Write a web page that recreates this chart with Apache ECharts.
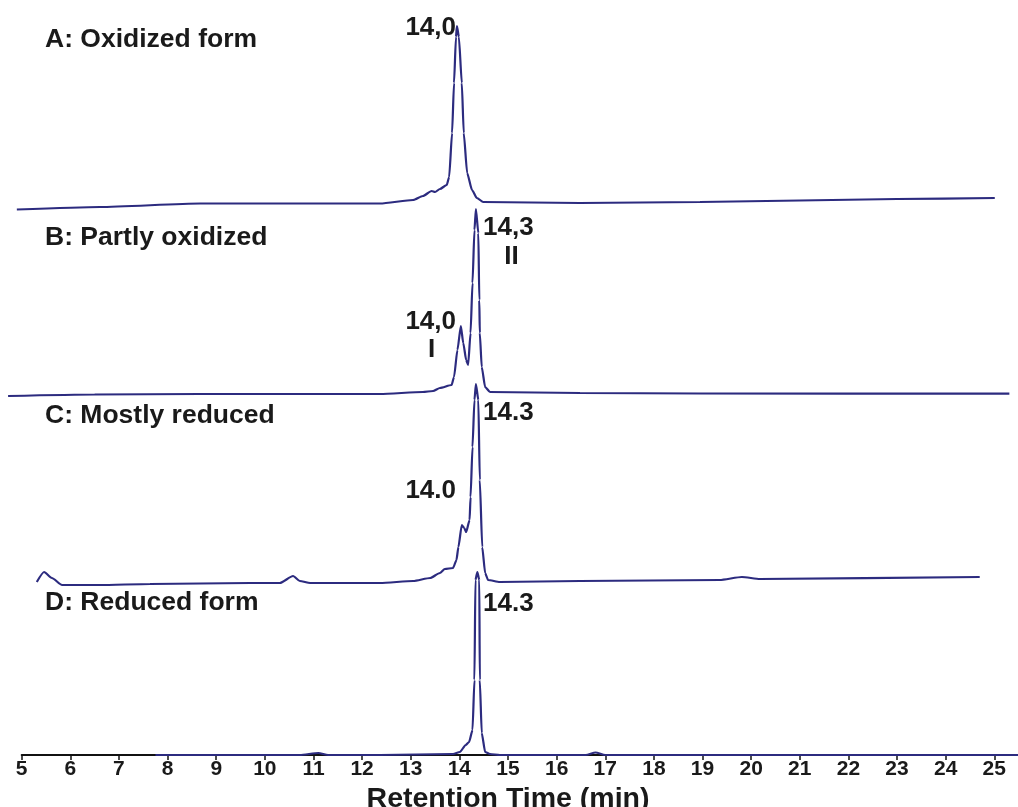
<!DOCTYPE html>
<html>
<head>
<meta charset="utf-8">
<script src="https://cdn.jsdelivr.net/npm/echarts@6/dist/echarts.min.js"></script>
<style>
html,body{margin:0;padding:0;background:#fff;overflow:hidden;}
#chart{width:1018px;height:807px;}
</style>
</head>
<body>
<div id="chart"></div>
<script>
// Retention time ticks
const tickMin = 5, tickMax = 25, tickStep = 1;
// Wider hidden range for the traces (they run slightly past 5 and 25)
const traceMin = 4, traceMax = 26;

// Trace labels and baseline offsets (vertical stacking, arbitrary units)
const traceNames = ['A: Oxidized form', 'B: Partly oxidized', 'C: Mostly reduced', 'D: Reduced form'];
const traceOffsets = [545, 361, 172, 0];

// A: Oxidized form
const timeA = [4.90, 6.61, 8.67, 10.5, 12.37, 13.05, 13.25, 13.43, 13.50, 13.60, 13.74, 13.79, 13.85, 13.89, 13.93, 13.95, 13.99, 14.05, 14.09, 14.16, 14.26, 14.36, 14.49, 16.48, 18.95, 21.0, 23.0, 25.01];
const signalA = [0.5, 3, 6.5, 6.5, 6.5, 10, 14, 19, 18, 21, 25, 33, 77, 127, 173, 184, 173, 127, 77, 37, 20, 12, 8, 7, 8, 9.5, 11, 12];

// B: Partly oxidized
const timeB = [4.72, 6.5, 8.67, 12.37, 13.25, 13.46, 13.60, 13.84, 13.89, 13.96, 14.03, 14.08, 14.14, 14.18, 14.23, 14.27, 14.31, 14.34, 14.39, 14.41, 14.42, 14.46, 14.53, 14.63, 16.48, 18.95, 25.31];
const signalB = [-2, -0.5, 0, 0, 2, 3, 6, 9, 17, 44, 68, 51, 34, 29, 61, 111, 164, 185, 161, 94, 61, 27, 7, 2, 1, 0.5, 0.3];

// C: Mostly reduced
const timeC = [5.31, 5.46, 5.62, 5.83, 6.61, 7.64, 9.70, 10.31, 10.58, 10.72, 10.93, 12.37, 13.05, 13.40, 13.60, 13.70, 13.87, 13.94, 13.98, 14.05, 14.10, 14.14, 14.21, 14.23, 14.27, 14.31, 14.34, 14.39, 14.42, 14.47, 14.53, 14.59, 14.83, 16.48, 19.35, 19.81, 20.18, 24.70];
const signalC = [1, 11, 5, -2, -2, -1, 0, 0, 7, 2, 0, 0, 2, 5, 10, 14, 15, 23, 36, 58, 55, 51, 63, 86, 136, 183, 199, 183, 103, 36, 10, 3, 1, 2, 3, 6, 4, 6];

// D: Reduced form
const timeD = [7.75, 8.67, 10.72, 11.1, 11.3, 12.37, 13.87, 14.01, 14.13, 14.20, 14.27, 14.31, 14.33, 14.37, 14.41, 14.42, 14.46, 14.53, 14.63, 14.83, 16.6, 16.8, 17.0, 25.49];
const signalD = [0, 0, 0, 2, 0, 0, 1, 3, 10, 13, 25, 75, 175, 183, 175, 75, 22, 3, 1, 0, 0, 2.5, 0, 0];

// Peak annotations
const peakLabelsA = ['14,0'];
const peakLabelsB = ['14,3', 'II', '14,0', 'I'];
const peakLabelsC = ['14.3', '14.0'];
const peakLabelsD = ['14.3'];

const xTitle = 'Retention Time (min)';

const times = [timeA, timeB, timeC, timeD];
const signals = [signalA, signalB, signalC, signalD];
const lineColor = '#2c2b7f';
const FONT = '"Liberation Sans", Arial, sans-serif';

const series = times.map((t, i) => ({
  type: 'line',
  name: traceNames[i],
  xAxisIndex: 1, yAxisIndex: 1,
  data: t.map((x, j) => [x, traceOffsets[i] + signals[i][j]]),
  showSymbol: false,
  symbol: 'none',
  clip: false,
  smooth: 0.2,
  smoothMonotone: 'x',
  lineStyle: { color: lineColor, width: 2.2 },
  z: 3
}));

function txt(text, x, y, align, size) {
  return {
    type: 'text', x: x, y: y, z: 10,
    style: {
      text: text, fill: '#1a1a1a', font: 'bold ' + size + 'px ' + FONT,
      textAlign: align, textVerticalAlign: 'middle'
    }
  };
}

const T = 26.5, P = 26;
const graphics = [
  txt(traceNames[0], 45, 40, 'left', T),
  txt(traceNames[1], 45, 238, 'left', T),
  txt(traceNames[2], 45, 416, 'left', T),
  txt(traceNames[3], 45, 603, 'left', T),
  txt(peakLabelsA[0], 456, 28, 'right', P),
  txt(peakLabelsB[0], 483, 228, 'left', P),
  txt(peakLabelsB[1], 511.5, 257, 'center', P),
  txt(peakLabelsB[2], 456, 322, 'right', P),
  txt(peakLabelsB[3], 431.5, 350, 'center', P),
  txt(peakLabelsC[0], 483, 413, 'left', P),
  txt(peakLabelsC[1], 456, 491, 'right', P),
  txt(peakLabelsD[0], 483, 604, 'left', P)
];

// Layout: pixel position of the 5 and 25 ticks
const W = 1018, leftPx = 21.7, rightPx = 994.3;
const pxPerUnit = (rightPx - leftPx) / (tickMax - tickMin);

const chart = echarts.init(document.getElementById('chart'), null, { renderer: 'canvas' });
chart.setOption({
  animation: false,
  backgroundColor: '#ffffff',
  grid: [
    { left: leftPx, right: W - rightPx, top: 0, bottom: 52, containLabel: false, outerBoundsMode: 'none' },
    { left: leftPx - (tickMin - traceMin) * pxPerUnit, right: W - rightPx - (traceMax - tickMax) * pxPerUnit,
      top: 0, bottom: 52, containLabel: false, outerBoundsMode: 'none' }
  ],
  xAxis: [{
    type: 'value', gridIndex: 0, min: tickMin, max: tickMax, interval: tickStep,
    name: xTitle, nameLocation: 'middle', nameGap: 27,
    nameTextStyle: { fontFamily: FONT, fontWeight: 'bold', fontSize: 28.5, color: '#1a1a1a' },
    axisLine: { show: true, lineStyle: { color: '#111', width: 2 } },
    axisTick: { show: true, inside: false, length: 5, lineStyle: { color: '#111', width: 1.5 } },
    axisLabel: { margin: 4, fontFamily: FONT, fontWeight: 'bold', fontSize: 21, color: '#1a1a1a' },
    splitLine: { show: false }
  }, {
    type: 'value', gridIndex: 1, min: traceMin, max: traceMax, interval: tickStep, show: false,
    splitLine: { show: false }
  }],
  yAxis: [
    { type: 'value', gridIndex: 0, min: 0, max: 755, show: false, splitLine: { show: false } },
    { type: 'value', gridIndex: 1, min: 0, max: 755, show: false, splitLine: { show: false } }
  ],
  series: series,
  graphic: graphics
});
</script>
</body>
</html>
